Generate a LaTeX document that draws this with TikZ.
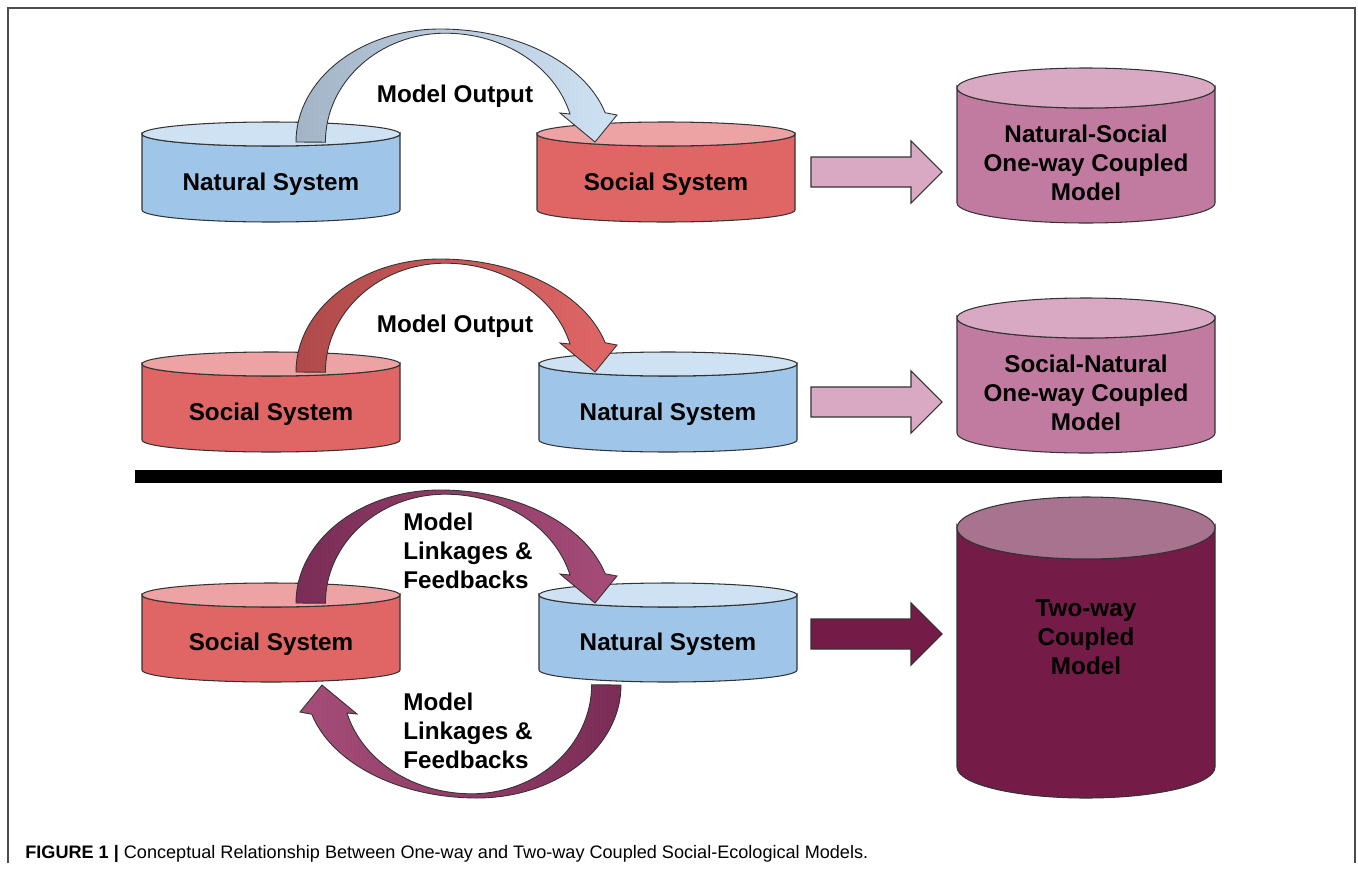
\documentclass[tikz,border=0pt]{standalone}
\usepackage{fontspec}
\setmainfont{Liberation Sans}
\usetikzlibrary{shadings}

\definecolor{natside}{HTML}{9FC5E8}
\definecolor{nattop}{HTML}{CFE2F3}
\definecolor{socside}{HTML}{E06666}
\definecolor{soctop}{HTML}{EDA3A3}
\definecolor{oneside}{HTML}{C27BA0}
\definecolor{onetop}{HTML}{D9A9C3}
\definecolor{twoside}{HTML}{741B47}
\definecolor{twotop}{HTML}{A8738F}
\definecolor{outtail}{HTML}{A2B4C6}
\definecolor{redtail}{HTML}{B04A4A}
\definecolor{linktail}{HTML}{7A2D56}
\definecolor{linkhead}{HTML}{A64D79}
\definecolor{rim}{HTML}{333333}

\def\drumHalf{129}

% drum: name, x centre, lid y, base y, lid radius, colour stem
\newcommand{\drum}[6]{%
    \draw [drumline, fill=#6side]
    (#2-\drumHalf,#3) -- (#2-\drumHalf,#4)
    arc [start angle=180, end angle=0, x radius=\drumHalf, y radius=#5]
    -- (#2+\drumHalf,#3)
    arc [start angle=0, end angle=180, x radius=\drumHalf, y radius=#5]
    -- cycle
    ;
    \draw [drumline, fill=#6top] (#2,#3) ellipse [x radius=\drumHalf, y radius=#5];
    \coordinate (#1) at (#2,{(#3+#4)/2+#5});
}

% arched arrow from the left drum to the right drum
\newcommand{\overarc}[1]{%
    \draw [#1]
    (296,142)
    arc [start angle=180, end angle=270, x radius=144, y radius=113]
    arc [start angle=270, end angle=345, x radius=171, y radius=113]
    -- (617,115) -- (595,142) -- (560,113) -- (570,114)
    arc [start angle=345, end angle=270, x radius=129, y radius=109]
    arc [start angle=270, end angle=180, x radius=120, y radius=109]
    -- cycle
    ;
}

\begin{document}
\begin{tikzpicture}[x=0.02cm, y=-0.02cm,
        drumline/.style = {draw=rim, line width=0.6pt},
        arcband/.style = {draw=rim, line width=0.5pt},
        sys/.style = {font=\fontsize{13.8}{16.5}\selectfont\bfseries, align=center, inner sep=0pt},
        note/.style = {font=\fontsize{13.8}{16.5}\selectfont\bfseries, align=left, inner sep=0pt}]
    \useasboundingbox (0,0) rectangle (1358,872);

    % frame
    \draw [black!70, line width=0.6pt] (8,863) -- (8,8) -- (1355,8) -- (1355,863);

    % one-way, natural to social
    \drum{natA}{271}{134}{210}{12}{nat}
    \drum{socA}{666}{134}{210}{12}{soc}
    \drum{oneA}{1086}{88}{203}{20}{one}
    \overarc{arcband, left color=outtail, right color=nattop}

    % one-way, social to natural
    \drum{socB}{271}{364}{440}{12}{soc}
    \drum{natB}{668}{364}{440}{12}{nat}
    \drum{oneB}{1086}{318}{433}{20}{one}
    \begin{scope}[shift={(0,230)}]
        \overarc{arcband, left color=redtail, right color=socside}
    \end{scope}

    % divider
    \fill (135,470) rectangle (1222,483);

    % two-way
    \drum{socC}{271}{595}{670}{12}{soc}
    \drum{natC}{668}{595}{670}{12}{nat}
    \drum{twoC}{1086}{528}{767}{31}{two}
    \begin{scope}[shift={(0,461)}]
        \overarc{arcband, left color=linktail, right color=linkhead}
    \end{scope}
    \draw [arcband, left color=linkhead, right color=linktail]
    (621,685)
    arc [start angle=0, end angle=90, x radius=144, y radius=113]
    arc [start angle=90, end angle=165, x radius=171, y radius=113]
    -- (300,712) -- (322,685) -- (357,714) -- (347,713)
    arc [start angle=165, end angle=90, x radius=129, y radius=109]
    arc [start angle=90, end angle=0, x radius=120, y radius=109]
    -- cycle
    ;

    % block arrows
    \foreach \y/\c in {172/onetop, 402/onetop, 634/twoside} {
        \draw [drumline, fill=\c]
        (811,\y-15) -- (911,\y-15) -- (911,\y-31) -- (942,\y)
        -- (911,\y+31) -- (911,\y+15) -- (811,\y+15) -- cycle
        ;
    }

    % labels
    \node [sys] (natA-txt) at (natA) {Natural System};
    \node [sys] (socA-txt) at (socA) {Social System};
    \node [sys] (oneA-txt) at (1086,163) {Natural-Social\\One-way Coupled\\Model};
    \node [sys] (outA) at (455,96) {Model Output};

    \node [sys] (socB-txt) at (socB) {Social System};
    \node [sys] (natB-txt) at (natB) {Natural System};
    \node [sys] (oneB-txt) at (1086,393) {Social-Natural\\One-way Coupled\\Model};
    \node [sys] (outB) at (455,326) {Model Output};

    \node [sys] (socC-txt) at (socC) {Social System};
    \node [sys] (natC-txt) at (natC) {Natural System};
    \node [sys] (twoC-txt) at (1086,637) {Two-way\\Coupled\\Model};
    \node [note, anchor=west] (linkUp) at (403,551) {Model\\Linkages \&\\Feedbacks};
    \node [note, anchor=west] (linkDown) at (403,731) {Model\\Linkages \&\\Feedbacks};

    % caption
    \node [anchor=base west, inner sep=0pt, font=\fontsize{10.3}{12}\selectfont] (caption) at (25,858)
    {\textbf{FIGURE 1 |} Conceptual Relationship Between One-way and Two-way Coupled Social-Ecological Models.};
\end{tikzpicture}
\end{document}
